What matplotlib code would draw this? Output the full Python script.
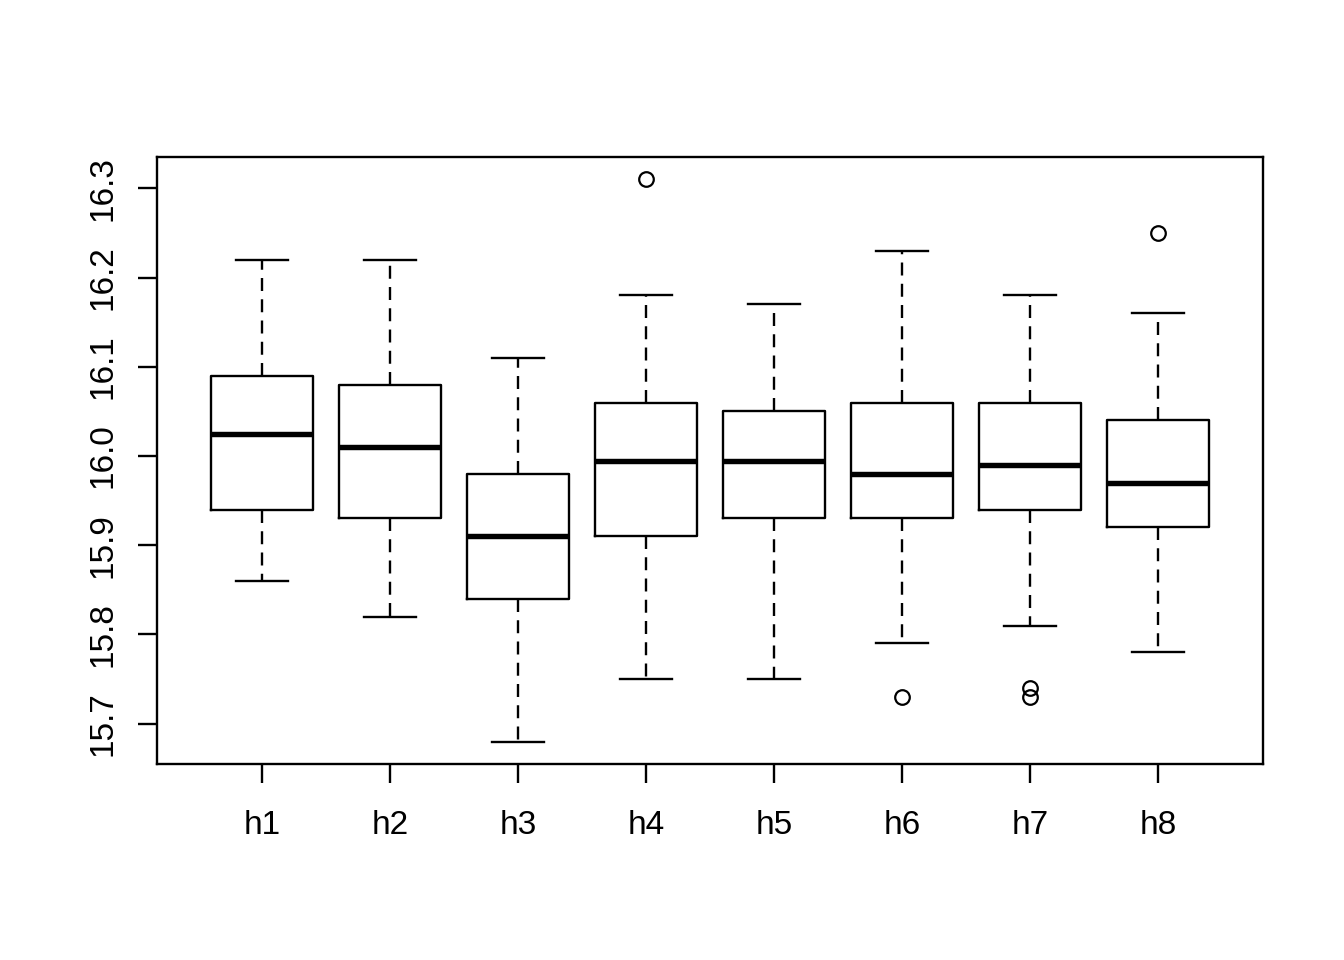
import matplotlib
matplotlib.use('Agg')
import matplotlib.pyplot as plt

plt.rcParams['font.family'] = ['Liberation Sans', 'DejaVu Sans']

# Box statistics
labels = ['h1', 'h2', 'h3', 'h4', 'h5', 'h6', 'h7', 'h8']
whislo = [15.86, 15.82, 15.68, 15.75, 15.75, 15.79, 15.81, 15.78]
q1 = [15.94, 15.93, 15.84, 15.91, 15.93, 15.93, 15.94, 15.92]
med = [16.025, 16.01, 15.91, 15.995, 15.995, 15.98, 15.99, 15.97]
q3 = [16.09, 16.08, 15.98, 16.06, 16.05, 16.06, 16.06, 16.04]
whishi = [16.22, 16.22, 16.11, 16.18, 16.17, 16.23, 16.18, 16.16]
fliers = [[], [], [], [16.31], [], [15.73], [15.74, 15.73], [16.25]]

stats = []
for i in range(len(labels)):
    stats.append(dict(label=labels[i], whislo=whislo[i], q1=q1[i], med=med[i],
                      q3=q3[i], whishi=whishi[i], fliers=fliers[i]))

fig = plt.figure(figsize=(13.44, 9.6), dpi=100)
ax = fig.add_axes([157 / 1344, 1 - 764 / 960, (1263 - 157) / 1344, (764 - 157) / 960])

lw = 1.7
ax.bxp(stats, positions=range(1, 9), widths=0.8, patch_artist=False,
       boxprops=dict(color='black', linewidth=lw),
       medianprops=dict(color='black', linewidth=3.9, solid_capstyle='butt'),
       whiskerprops=dict(color='black', linewidth=lw, linestyle=(0, (5.5, 3.5))),
       capprops=dict(color='black', linewidth=lw),
       flierprops=dict(marker='o', markerfacecolor='none', markeredgecolor='black',
                       markersize=10.5, markeredgewidth=1.6),
       capwidths=0.4)

ax.set_xlim(0.18, 8.82)
lo, hi = 15.68, 16.31
ext = (hi - lo) * 0.04
ax.set_ylim(lo - ext, hi + ext)
ax.set_yticks([15.7, 15.8, 15.9, 16.0, 16.1, 16.2, 16.3])
ax.set_yticklabels(['15.7', '15.8', '15.9', '16.0', '16.1', '16.2', '16.3'],
                   rotation=90, va='center')
ax.set_xticks(range(1, 9))
ax.set_xticklabels(labels)
ax.tick_params(axis='both', direction='out', length=14, width=lw, labelsize=24)
ax.tick_params(axis='x', pad=19)
ax.tick_params(axis='y', pad=14)
for s in ax.spines.values():
    s.set_linewidth(lw)

fig.savefig('out.png', dpi=100, facecolor='white')
